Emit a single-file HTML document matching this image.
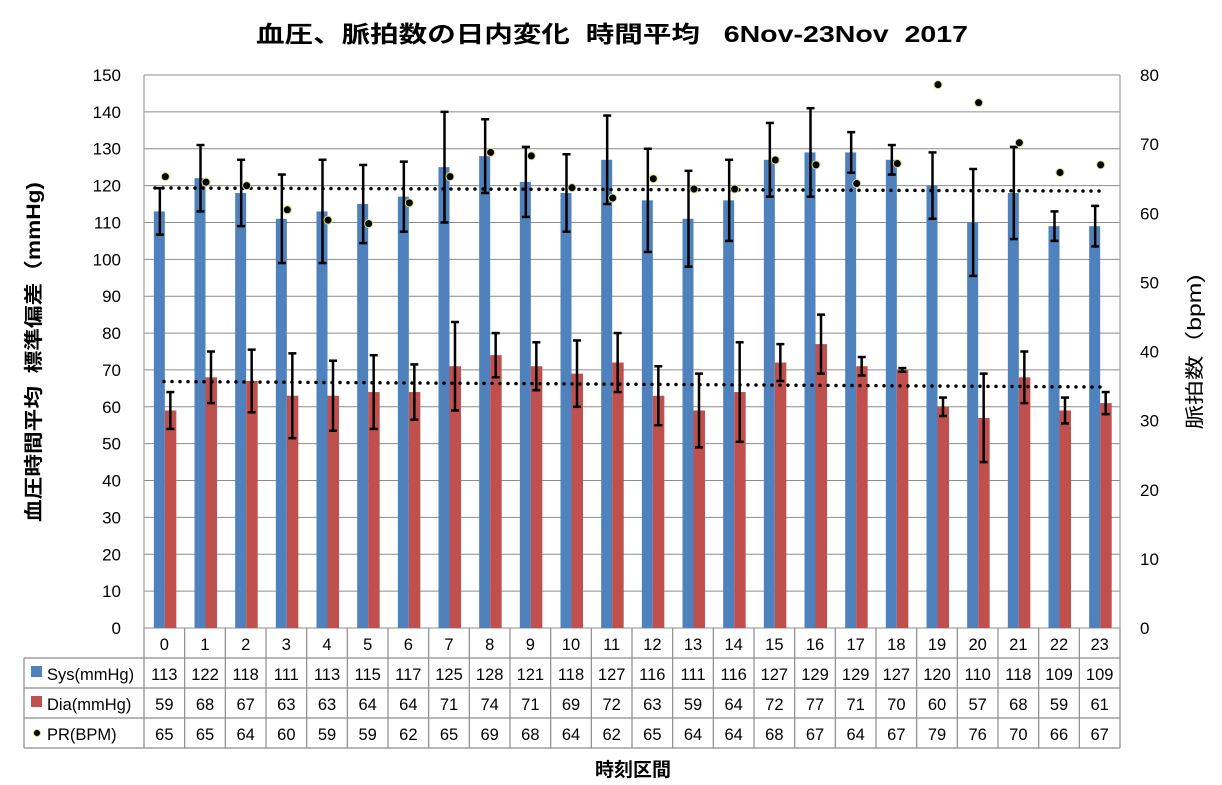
<!DOCTYPE html>
<html><head><meta charset="utf-8"><style>
html,body{margin:0;padding:0;background:#fff;}
svg{display:block;font-family:"Liberation Sans","Noto Sans CJK JP",sans-serif;}
</style></head><body>
<svg id="c" width="1222" height="785" viewBox="0 0 1222 785" xmlns="http://www.w3.org/2000/svg"></svg>
<script>
const sys=[113,122,118,111,113,115,117,125,128,121,118,127,116,111,116,127,129,129,127,120,110,118,109,109];
const dia=[59,68,67,63,63,64,64,71,74,71,69,72,63,59,64,72,77,71,70,60,57,68,59,61];
const pr=[65,65,64,60,59,59,62,65,69,68,64,62,65,64,64,68,67,64,67,79,76,70,66,67];
const prp=[65.3,64.5,64,60.5,59,58.5,61.5,65.3,68.8,68.3,63.7,62.2,65,63.5,63.5,67.7,67,64.3,67.2,78.6,76,70.2,65.9,67];
const sysSd=[6.3,9,9,12,14,10.6,9.5,15,10,9.5,10.5,12,14,13,11,10,12,5.5,4,9,14.5,12.5,4,5.5];
const diaSd=[5,7,8.5,11.5,9.5,10,7.5,12,6,6.5,9,8,8,10,13.5,5,8,2.5,0.5,2.5,12,7,3.5,3];
const L=144,R=1120,T=75,B=628,cw=(R-L)/24;
const yL=v=>B-v*(B-T)/150, yR=v=>B-v*(B-T)/80;
let s='';
// grid
for(let v=0;v<=150;v+=10){const y=yL(v);s+=`<line x1="${L}" x2="${R}" y1="${y}" y2="${y}" stroke="#8c8c8c" stroke-width="1"/>`;
s+=`<text x="121" y="${y+6}" font-size="17" text-anchor="end">${v}</text>`;}
for(let v=0;v<=80;v+=10){s+=`<text x="1140" y="${yR(v)+6}" font-size="17">${v}</text>`;}
s+=`<line x1="${L}" x2="${L}" y1="${T}" y2="${B}" stroke="#8c8c8c"/><line x1="${R}" x2="${R}" y1="${T}" y2="${B}" stroke="#8c8c8c"/>`;
// bars
for(let i=0;i<24;i++){const c=L+cw*(i+0.5);
s+=`<rect x="${c-10.5}" y="${yL(sys[i])}" width="11" height="${B-yL(sys[i])}" fill="#4f81bd"/>`;
s+=`<rect x="${c+0.5}" y="${yL(dia[i])}" width="11.5" height="${B-yL(dia[i])}" fill="#c0504d"/>`;}
// trend lines
s+=`<line x1="155" y1="188" x2="1100" y2="191" stroke="#000" stroke-width="3.5" stroke-linecap="round" stroke-dasharray="0 8"/>`;
s+=`<line x1="164" y1="381.5" x2="1100" y2="387" stroke="#000" stroke-width="3.5" stroke-linecap="round" stroke-dasharray="0 8"/>`;
// error bars
function eb(x,m,sd){const a=yL(m+sd),b=yL(m-sd);return `<line x1="${x}" x2="${x}" y1="${a}" y2="${b}" stroke="#000" stroke-width="2.5"/><line x1="${x-4}" x2="${x+4}" y1="${a}" y2="${a}" stroke="#000" stroke-width="2.5"/><line x1="${x-4}" x2="${x+4}" y1="${b}" y2="${b}" stroke="#000" stroke-width="2.5"/>`;}
for(let i=0;i<24;i++){const c=L+cw*(i+0.5);s+=eb(c-4.5,sys[i],sysSd[i]);s+=eb(c+6,dia[i],diaSd[i]);}
// pr dots
for(let i=0;i<24;i++){const c=L+cw*(i+0.5)+1;s+=`<circle cx="${c}" cy="${yR(prp[i])}" r="4" fill="#000" stroke="#d8e07a" stroke-width="1"/>`;}
// table
const rows=[658,688,718,748];
s+=`<g stroke="#8c8c8c" stroke-width="1.2" fill="none">`;
s+=`<line x1="${L}" x2="${L}" y1="${B}" y2="748"/>`;
for(let i=1;i<=24;i++){const x=L+cw*i;s+=`<line x1="${x}" x2="${x}" y1="${B}" y2="748"/>`;}
s+=`<line x1="24" x2="24" y1="658" y2="748"/>`;
rows.forEach(y=>{s+=`<line x1="24" x2="${R}" y1="${y}" y2="${y}"/>`;});
s+=`</g>`;
for(let i=0;i<24;i++){const c=L+cw*(i+0.5);
s+=`<text x="${c}" y="650" font-size="16.5" text-anchor="middle">${i}</text>`;
s+=`<text x="${c}" y="680" font-size="16.5" text-anchor="middle">${sys[i]}</text>`;
s+=`<text x="${c}" y="710" font-size="16.5" text-anchor="middle">${dia[i]}</text>`;
s+=`<text x="${c}" y="740" font-size="16.5" text-anchor="middle">${pr[i]}</text>`;}
s+=`<rect x="31" y="666" width="11" height="11" fill="#4f81bd"/><text x="47" y="680" font-size="16.5">Sys(mmHg)</text>`;
s+=`<rect x="31" y="696" width="11" height="11" fill="#c0504d"/><text x="47" y="710" font-size="16.5">Dia(mmHg)</text>`;
s+=`<circle cx="37" cy="733" r="3.5" fill="#000" stroke="#d8e07a"/><text x="47" y="740" font-size="16.5">PR(BPM)</text>`;
// titles
s+=`<text x="612" y="42" font-size="23" font-weight="bold" text-anchor="middle" textLength="712" lengthAdjust="spacingAndGlyphs">血圧、脈拍数の日内変化&#160;&#160;時間平均&#160;&#160;&#160;6Nov-23Nov&#160;&#160;2017</text>`;
s+=`<text transform="translate(40,352) rotate(-90)" font-size="19" font-weight="bold" text-anchor="middle" textLength="340" lengthAdjust="spacingAndGlyphs">血圧時間平均&#160;&#160;標準偏差（mmHg)</text>`;
s+=`<text transform="translate(1201,352) rotate(-90)" font-size="19" text-anchor="middle" textLength="155" lengthAdjust="spacingAndGlyphs">脈拍数（bpm)</text>`;
s+=`<text x="633" y="776" font-size="19" font-weight="bold" text-anchor="middle">時刻区間</text>`;
document.getElementById('c').innerHTML=s;
</script>
</body></html>
